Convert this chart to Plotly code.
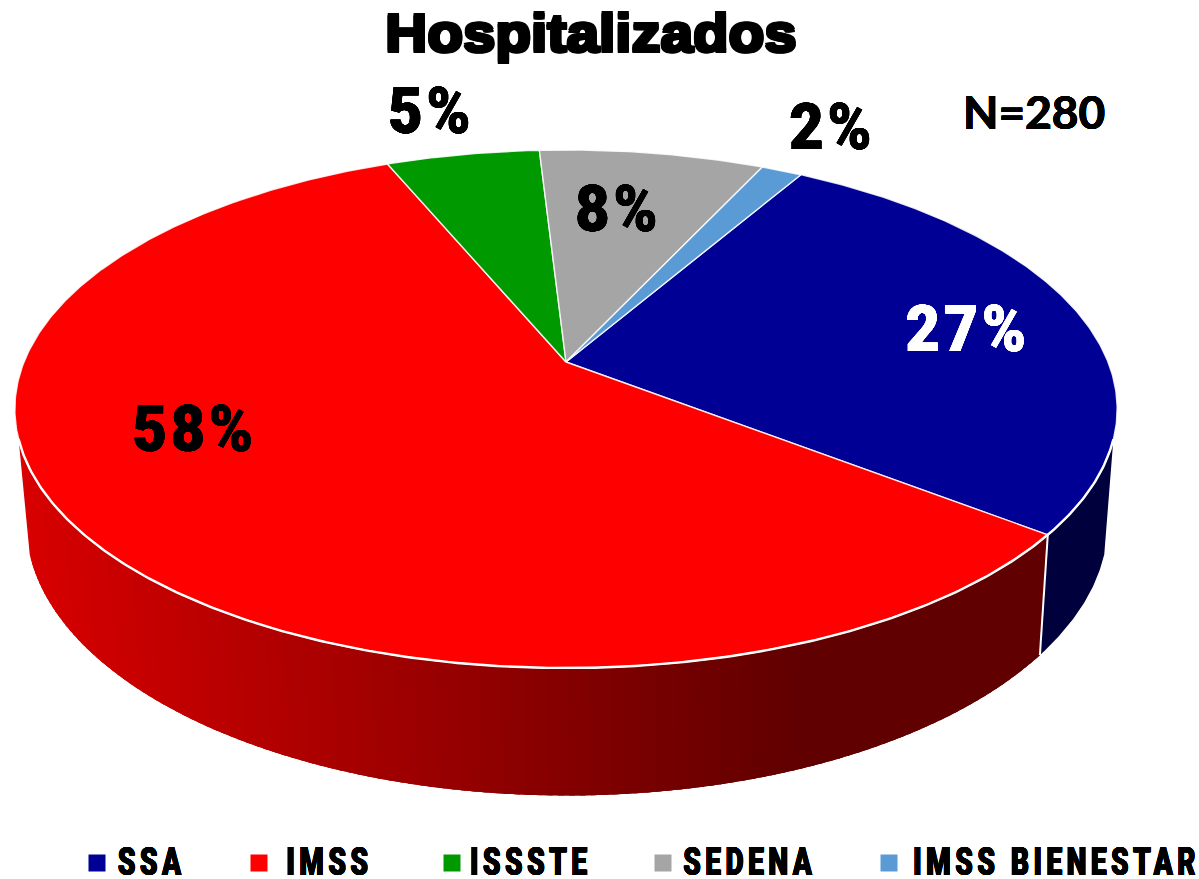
import math
import plotly.graph_objects as go

# ---- data ----
categories = ["SSA", "IMSS", "ISSSTE", "SEDENA", "IMSS BIENESTAR"]
legend_text = ["SSA", "IMSS", "ISSSTE", "SEDENA", "IMSS BIENESTAR"]
values = [76, 163, 15, 22, 4]
pct_labels = ["27%", "58%", "5%", "8%", "2%"]
title_text = "Hospitalizados"
n_text = "N=280"

# ---- styles ----
top_colors = ["#000094", "#ff0000", "#009900", "#a5a5a5", "#5b9bd5"]
label_colors = ["white", "black", "black", "black", "black"]
side_navy = "#00003c"
label_xy = [(967.5, 329), (195, 429), (431, 111), (618, 209), (832, 127)]
legend_swatch_x = [97, 259, 452, 663, 889]
legend_text_x = [152, 329, 531, 750, 1056]
START = 59.9
K = 0.1815
TOP = dict(x0=566, y0=362, a=542, b=250.5)
BOT = dict(x0=567, y0=473, a=532, b=264)
W, H = 1199, 879
LABEL_FONT = "Roboto"


def heavy(color, r=0.6):
    dirs = [(r, 0), (-r, 0), (0, r), (0, -r), (r, r), (-r, -r), (r, -r), (-r, r)]
    return ", ".join(f"{a}px {b}px 0 {color}" for a, b in dirs)


def project(theta_deg, d):
    t = math.radians(theta_deg)
    X, Y = math.cos(t), math.sin(t)
    den = 1 + K * Y
    return d["x0"] + d["a"] * X / den, d["y0"] - d["b"] * Y / den


def arc(t0, t1, d, step=0.5):
    n = max(2, int(abs(t1 - t0) / step) + 1)
    pts = [project(t0 + (t1 - t0) * i / (n - 1), d) for i in range(n)]
    return [p[0] for p in pts], [p[1] for p in pts]


def red_shade(x):
    f = min(1.0, max(0.0, (x - 20) / (800 - 20)))
    return f"rgb({round(216 + (96 - 216) * f)},0,0)"


fig = go.Figure()
total = sum(values)
bounds = [START]
for v in values:
    bounds.append(bounds[-1] - 360 * v / total)

S_LEFT, S_RIGHT = -163.0, -17.0
split = bounds[1]


def wall(t_a, t_b, steps, colour_of):
    # painted left to right; each band runs on into the next so no seam shows
    dt = (t_b - t_a) / steps
    for i in range(steps):
        t0 = t_a + dt * i
        t1 = min(t_b, t0 + 2.5 * dt)
        xa, ya = arc(t0, t1, TOP, 0.3)
        xb, yb = arc(t1, t0, BOT, 0.3)
        col = colour_of(project(t0 + dt / 2, TOP)[0])
        fig.add_trace(go.Scatter(x=xa + xb + [xa[0]], y=ya + yb + [ya[0]], mode="lines", fill="toself",
                                 fillcolor=col, line=dict(width=0), hoverinfo="skip", showlegend=False))


wall(S_LEFT, split, 130, red_shade)
wall(split, S_RIGHT, 1, lambda x: side_navy)

a, b = project(split, TOP), project(split, BOT)
fig.add_trace(go.Scatter(x=[a[0], b[0]], y=[a[1], b[1]], mode="lines",
                         line=dict(color="white", width=2), hoverinfo="skip", showlegend=False))

for i, c in enumerate(categories):
    xs, ys = arc(bounds[i], bounds[i + 1], TOP)
    x = [TOP["x0"]] + xs + [TOP["x0"]]
    y = [TOP["y0"]] + ys + [TOP["y0"]]
    fig.add_trace(go.Scatter(x=x, y=y, mode="lines", fill="toself", fillcolor=top_colors[i],
                             line=dict(color="rgba(255,255,255,0.85)", width=1.4), name=c,
                             hoverinfo="name", showlegend=False))

xs, ys = arc(S_LEFT, S_RIGHT, TOP)
fig.add_trace(go.Scatter(x=xs, y=ys, mode="lines", line=dict(color="white", width=2.4),
                         hoverinfo="skip", showlegend=False))

for i, c in enumerate(categories):
    fig.add_trace(go.Scatter(x=[legend_swatch_x[i]], y=[863], mode="markers",
                             marker=dict(symbol="square", size=17, color=top_colors[i]),
                             name=c, hoverinfo="name", showlegend=False))

ann = []
for i, t in enumerate(pct_labels):
    ann.append(dict(x=label_xy[i][0], y=label_xy[i][1], text=t, showarrow=False,
                    font=dict(family=LABEL_FONT, size=64, color=label_colors[i], weight=900,
                              shadow=heavy(label_colors[i], 0.4))))
for i, t in enumerate(legend_text):
    ann.append(dict(x=legend_text_x[i], y=862, text=t, showarrow=False,
                    font=dict(family=LABEL_FONT, size=39, color="black", weight=900,
                              shadow=heavy("black", 0.4))))
ann.append(dict(x=1034, y=111, text=n_text, showarrow=False,
                font=dict(family="Lato", size=46, color="black", weight="bold", shadow=heavy("black", 0.3))))

fig.update_layout(
    width=W, height=H, margin=dict(l=0, r=0, t=0, b=0), paper_bgcolor="white", plot_bgcolor="white",
    showlegend=False, annotations=ann,
    title=dict(text=title_text, x=591 / W, xanchor="center", y=1 - 33 / H, yanchor="middle",
               font=dict(family="Liberation Sans", size=54, color="black", weight="bold",
                         shadow=heavy("black", 1.5))),
    xaxis=dict(range=[0, W], visible=False, fixedrange=True),
    yaxis=dict(range=[H, 0], visible=False, fixedrange=True),
)

post = """
document.documentElement.style.overflow='hidden';
document.body.style.margin='0';
function squeeze(t,s){
  var b=t.getBBox(), cx=b.x+b.width/2;
  t.setAttribute('transform','translate('+cx+' 0) scale('+s+' 1) translate('+(-cx)+' 0)');
}
document.querySelectorAll('.annotation-text').forEach(function(t){
  var s=t.textContent;
  if(s==='N=280'){return;}
  if(s.indexOf('%')>=0){ t.style.letterSpacing='0.07em'; squeeze(t,0.92); }
  else { t.style.letterSpacing='0.16em'; squeeze(t,0.72); }
});
document.querySelectorAll('.gtitle').forEach(function(t){ squeeze(t,1.08); });
"""
fig.write_html("out.html", post_script=post, config={"displayModeBar": False})
